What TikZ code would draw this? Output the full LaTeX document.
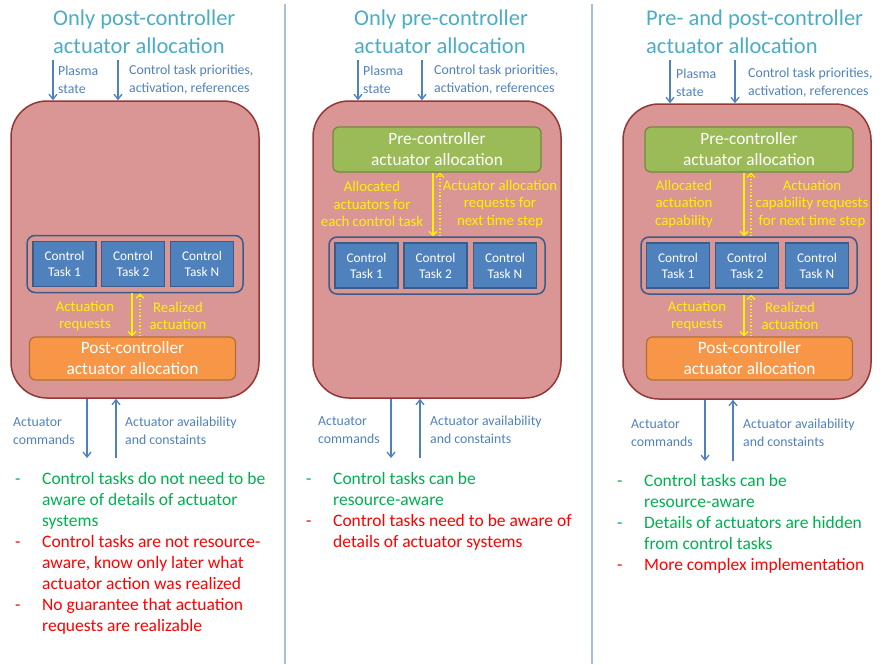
\documentclass[tikz,border=0pt]{standalone}
\usepackage{fontspec}
\setmainfont{Carlito}
\usetikzlibrary{positioning,arrows.meta}
\definecolor{titlecol}{HTML}{4BACC6}
\definecolor{flowblue}{HTML}{4F81BD}
\definecolor{taskline}{HTML}{385D8A}
\definecolor{boxpink}{HTML}{D99694}
\definecolor{boxred}{HTML}{953735}
\definecolor{preg}{HTML}{9BBB59}
\definecolor{pregline}{HTML}{71893F}
\definecolor{posto}{HTML}{F79646}
\definecolor{postoline}{HTML}{B66D31}
\definecolor{sepcol}{HTML}{A7BFDE}
\definecolor{okgreen}{HTML}{00B050}
\definecolor{badred}{HTML}{FF0000}
\newcommand{\gd}{\color{okgreen}}
\newcommand{\bd}{\color{badred}}
\newcommand{\bulletdash}{\makebox[27pt][l]{-}}
\newcommand{\nodash}{\makebox[27pt][l]{}}

\begin{document}
\begin{tikzpicture}[x=1pt,y=-1pt,
  title/.style={text=titlecol,align=left,anchor=west,inner sep=0pt,font=\fontsize{22.5}{28}\selectfont},
  flowlbl/.style={text=flowblue,align=left,anchor=west,inner sep=0pt,font=\fontsize{13.8}{18}\selectfont},
  flow/.style={draw=flowblue,line width=1.3pt,-{Straight Barb[length=5pt,width=8pt]}},
  bigbox/.style={draw=boxred,fill=boxpink,line width=1.5pt,rounded corners=36pt,minimum width=248pt},
  group/.style={draw=taskline,line width=1.5pt,rounded corners=8pt,minimum width=216pt,minimum height=57pt},
  task/.style={draw=taskline,fill=flowblue,line width=1.5pt,text=white,align=center,inner sep=0pt,
    minimum width=63pt,minimum height=45pt,font=\fontsize{13.3}{16}\selectfont},
  prebox/.style={draw=pregline,fill=preg,line width=1.2pt,rounded corners=6pt,text=white,align=center,
    minimum width=208pt,minimum height=45pt,font=\fontsize{17.3}{21}\selectfont},
  postbox/.style={draw=postoline,fill=posto,line width=1.2pt,rounded corners=6pt,text=white,align=center,
    minimum width=206pt,minimum height=43pt,font=\fontsize{17.3}{21}\selectfont},
  ylbl/.style={text=yellow,align=center,inner sep=0pt,font=\fontsize{14.8}{17.5}\selectfont},
  ydown/.style={draw=yellow,line width=1.3pt,-{Straight Barb[length=4pt,width=8pt]}},
  yup/.style={draw=yellow,line width=1.3pt,dotted,-{Straight Barb[length=4pt,width=8pt]}},
  bullets/.style={anchor=north west,inner sep=0pt,font=\fontsize{17.5}{21}\selectfont}]
\useasboundingbox (0,0) rectangle (885,664);

\draw[sepcol,line width=1.5pt] (285,4) -- (285,664) (592,4) -- (592,664);

% only post-controller
\node[title] (t1) at (53,32) {Only post-controller\\actuator allocation};
\node[bigbox,minimum height=297pt] (box1) at (135,249.5) {};
\coordinate (in1a) at (53,60);
\coordinate (in1b) at (118,60);
\draw[flow] (in1a) -- (in1a |- box1.north);
\draw[flow] (in1b) -- (in1b |- box1.north);
\node[flowlbl] (pl1) at (58,80) {Plasma\\state};
\node[flowlbl] (pr1) at (129,80) {Control task priorities,\\activation, references};
\node[group] (g1) at (135,264) {};
\node[task] (c11) at (64.5,264) {Control\\Task 1};
\node[task] (c12) at (133,264) {Control\\Task 2};
\node[task] (c1n) at (202,264) {Control\\Task N};
\node[postbox] (post1) at (132.5,358.5) {Post-controller\\actuator allocation};
\draw[ydown] ([xshift=-3pt]g1.south) -- ([xshift=-3pt]g1.south |- post1.north);
\draw[yup] ([xshift=5pt]g1.south |- post1.north) -- ([xshift=5pt]g1.south);
\node[ylbl] (req1) at (85,316) {Actuation\\requests};
\node[ylbl] (rea1) at (178,316) {Realized\\actuation};
\coordinate (out1a) at (87,458);
\coordinate (out1b) at (116,458);
\draw[flow] (out1a |- box1.south) -- (out1a);
\draw[flow] (out1b) -- (out1b |- box1.south);
\node[flowlbl] (cmd1) at (13,431) {Actuator\\commands};
\node[flowlbl] (av1) at (125,431) {Actuator availability\\and constaints};
\node[bullets] (bul1) at (15,470) {\begin{tabular}{@{}l@{}}
\gd\bulletdash Control tasks do not need to be\\
\gd\nodash aware of details of actuator\\
\gd\nodash systems\\
\bd\bulletdash Control tasks are not resource-\\
\bd\nodash aware, know only later what\\
\bd\nodash actuator action was realized\\
\bd\bulletdash No guarantee that actuation\\
\bd\nodash requests are realizable
\end{tabular}};

% only pre-controller
\node[title] (t2) at (354,32) {Only pre-controller\\actuator allocation};
\node[bigbox,minimum height=297pt] (box2) at (437,249.5) {};
\coordinate (in2a) at (358,60);
\coordinate (in2b) at (422,60);
\draw[flow] (in2a) -- (in2a |- box2.north);
\draw[flow] (in2b) -- (in2b |- box2.north);
\node[flowlbl] (pl2) at (363,80) {Plasma\\state};
\node[flowlbl] (pr2) at (434,80) {Control task priorities,\\activation, references};
\node[prebox] (pre2) at (437,149.5) {Pre-controller\\actuator allocation};
\node[group] (g2) at (437,265.5) {};
\node[task] (c21) at (366.5,265.5) {Control\\Task 1};
\node[task] (c22) at (435.5,265.5) {Control\\Task 2};
\node[task] (c2n) at (505,265.5) {Control\\Task N};
\draw[ydown] ([xshift=-4pt]g2.north |- pre2.south) -- ([xshift=-4pt]g2.north);
\draw[yup] ([xshift=3pt]g2.north) -- ([xshift=3pt]g2.north |- pre2.south);
\node[ylbl] (alloc2) at (372,204) {Allocated\\actuators for\\each control task};
\node[ylbl] (ask2) at (500,204) {Actuator allocation\\requests for\\next time step};
\coordinate (out2a) at (391,458);
\coordinate (out2b) at (420,458);
\draw[flow] (out2a |- box2.south) -- (out2a);
\draw[flow] (out2b) -- (out2b |- box2.south);
\node[flowlbl] (cmd2) at (318,430) {Actuator\\commands};
\node[flowlbl] (av2) at (430,430) {Actuator availability\\and constaints};
\node[bullets] (bul2) at (306,470) {\begin{tabular}{@{}l@{}}
\gd\bulletdash Control tasks can be\\
\gd\nodash resource-aware\\
\bd\bulletdash Control tasks need to be aware of\\
\bd\nodash details of actuator systems
\end{tabular}};

% pre- and post-controller
\node[title] (t3) at (646,32) {Pre- and post-controller\\actuator allocation};
\node[bigbox,minimum height=295pt] (box3) at (747,251.5) {};
\coordinate (in3a) at (670,60);
\coordinate (in3b) at (735,60);
\draw[flow] (in3a) -- (in3a |- box3.north);
\draw[flow] (in3b) -- (in3b |- box3.north);
\node[flowlbl] (pl3) at (676,83) {Plasma\\state};
\node[flowlbl] (pr3) at (748,83) {Control task priorities,\\activation, references};
\node[prebox] (pre3) at (749,149.5) {Pre-controller\\actuator allocation};
\node[group] (g3) at (749,265.5) {};
\node[task] (c31) at (678,265.5) {Control\\Task 1};
\node[task] (c32) at (747,265.5) {Control\\Task 2};
\node[task] (c3n) at (817,265.5) {Control\\Task N};
\node[postbox] (post3) at (749.5,358.5) {Post-controller\\actuator allocation};
\draw[ydown] ([xshift=-5pt]g3.north |- pre3.south) -- ([xshift=-5pt]g3.north);
\draw[yup] ([xshift=2pt]g3.north) -- ([xshift=2pt]g3.north |- pre3.south);
\node[ylbl] (alloc3) at (684,204) {Allocated\\actuation\\capability};
\node[ylbl] (ask3) at (812,204) {Actuation\\capability requests\\for next time step};
\draw[ydown] ([xshift=-5pt]g3.south) -- ([xshift=-5pt]g3.south |- post3.north);
\draw[yup] ([xshift=2pt]g3.south |- post3.north) -- ([xshift=2pt]g3.south);
\node[ylbl] (req3) at (697,316) {Actuation\\requests};
\node[ylbl] (rea3) at (790,316) {Realized\\actuation};
\coordinate (out3a) at (705,461);
\coordinate (out3b) at (733,461);
\draw[flow] (out3a |- box3.south) -- (out3a);
\draw[flow] (out3b) -- (out3b |- box3.south);
\node[flowlbl] (cmd3) at (631,433) {Actuator\\commands};
\node[flowlbl] (av3) at (743,433) {Actuator availability\\and constaints};
\node[bullets] (bul3) at (617,472) {\begin{tabular}{@{}l@{}}
\gd\bulletdash Control tasks can be\\
\gd\nodash resource-aware\\
\gd\bulletdash Details of actuators are hidden\\
\gd\nodash from control tasks\\
\bd\bulletdash More complex implementation
\end{tabular}};
\end{tikzpicture}
\end{document}
